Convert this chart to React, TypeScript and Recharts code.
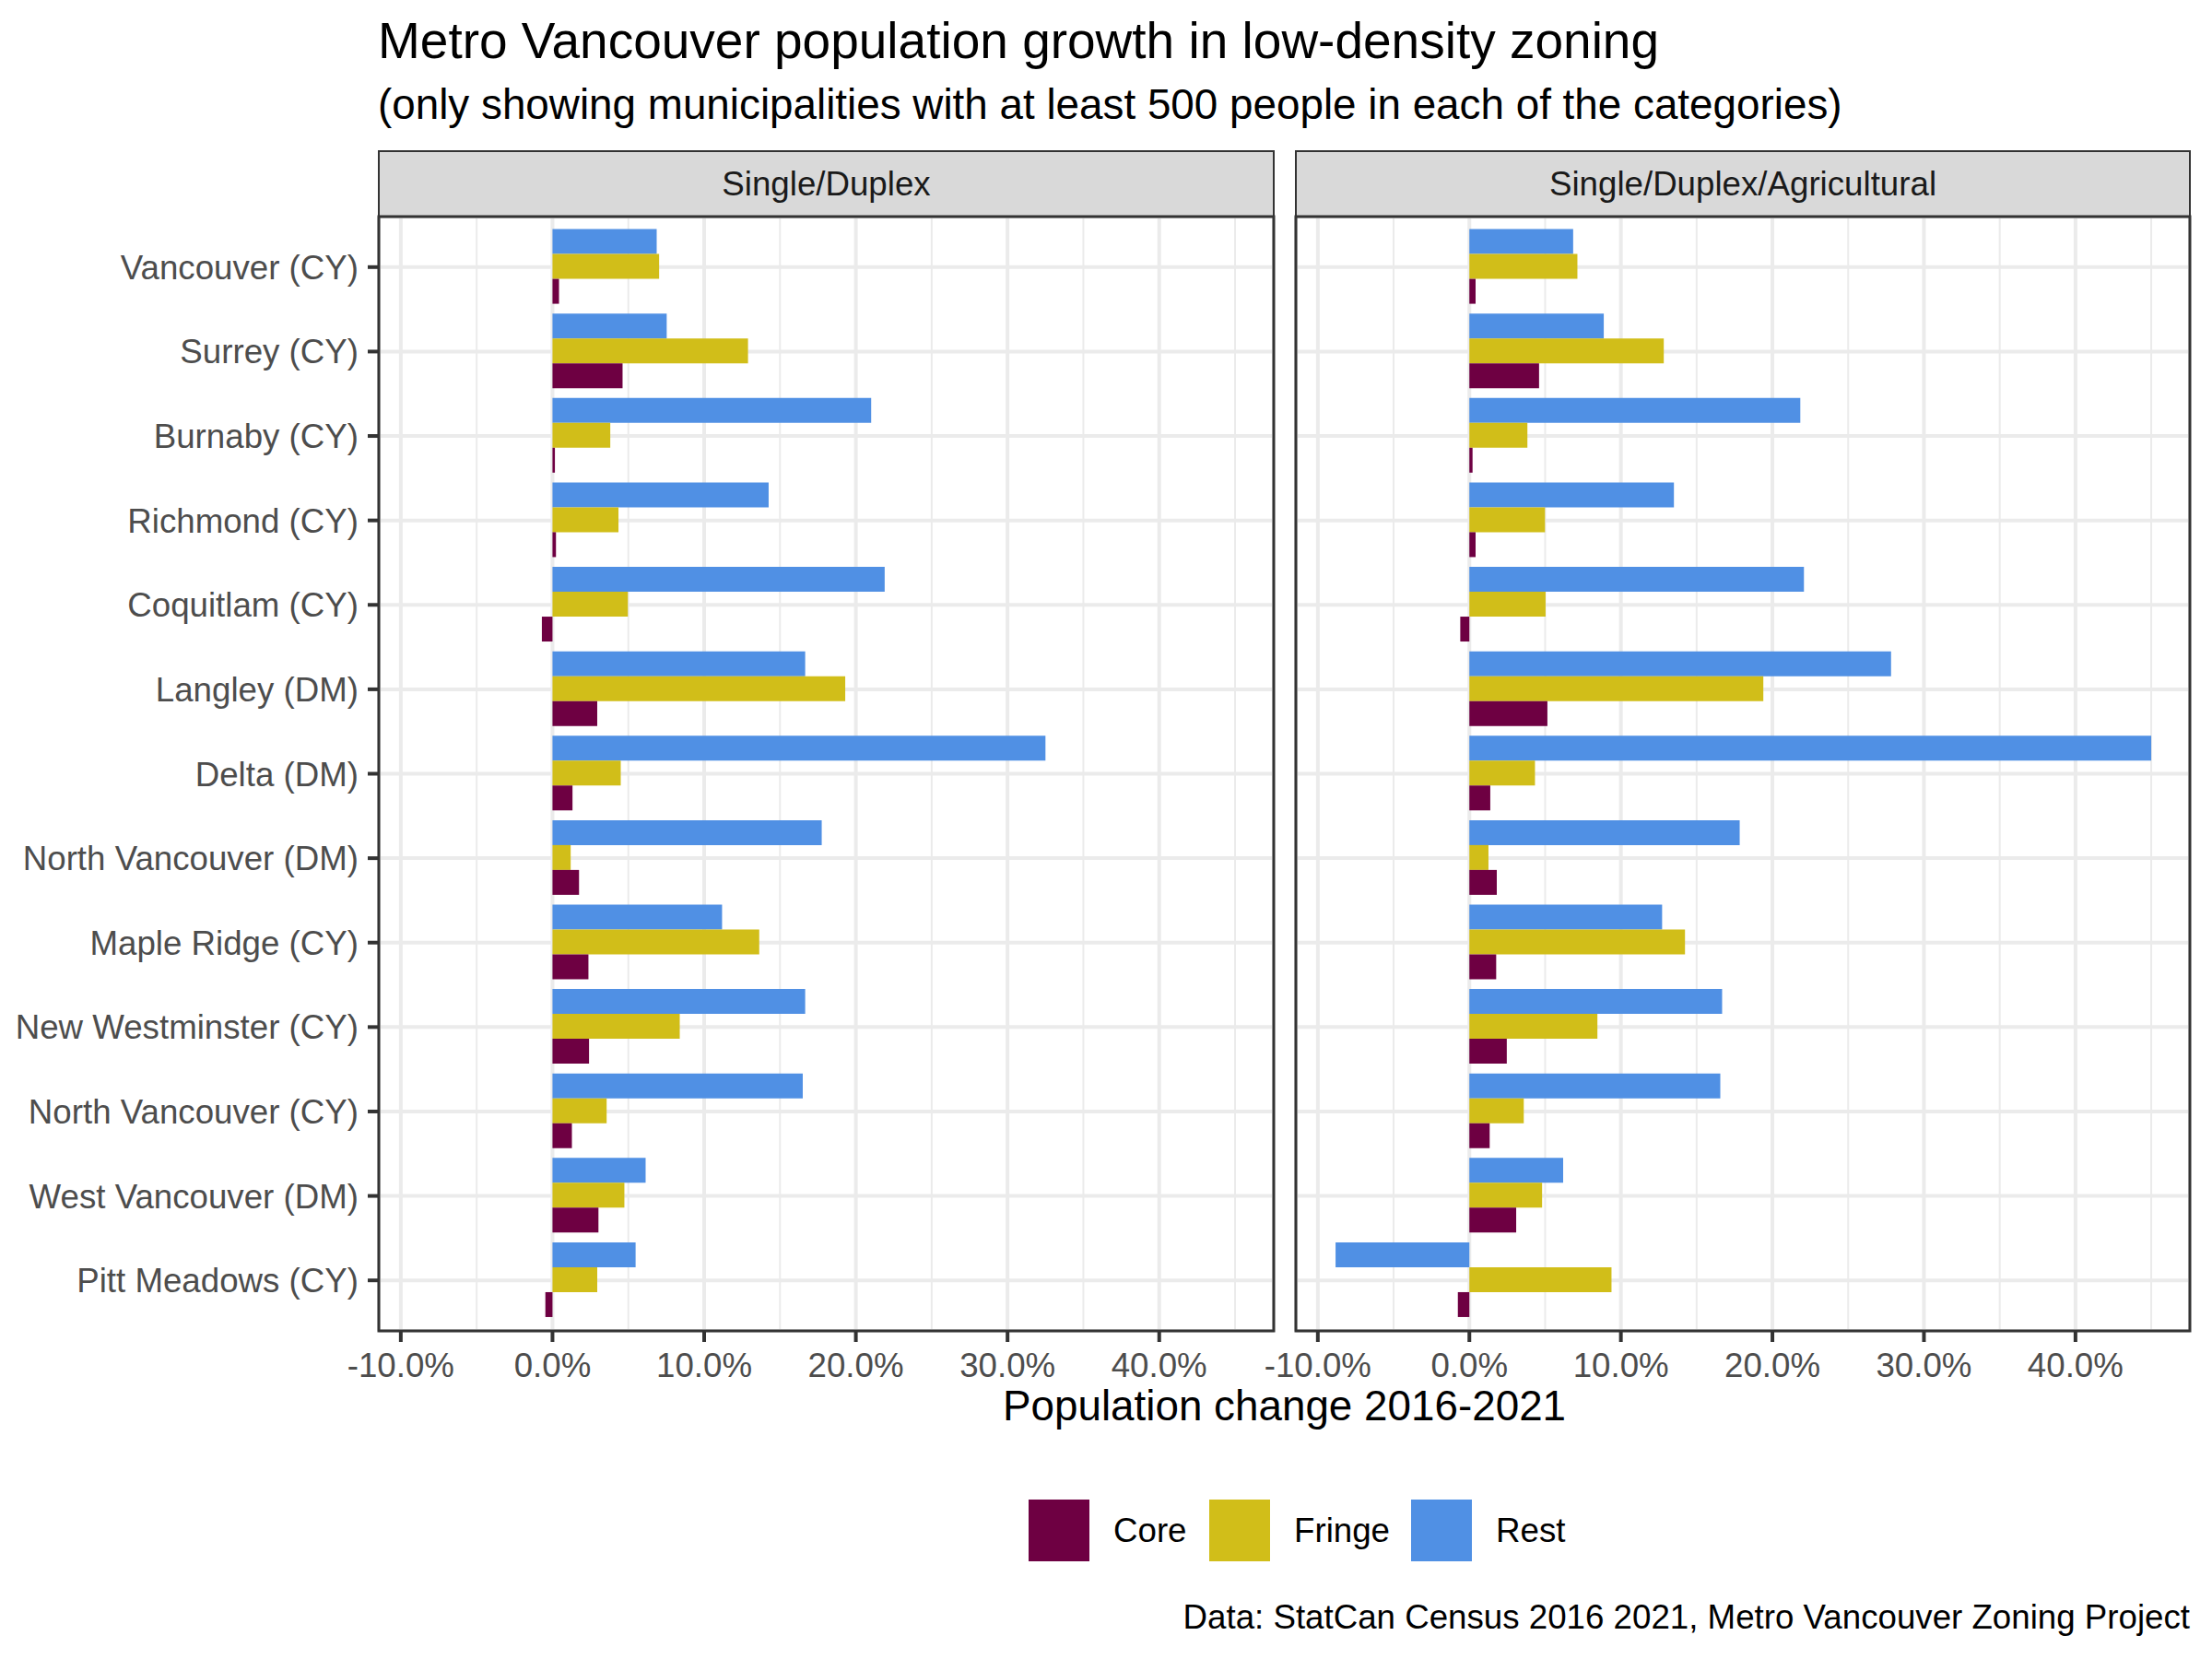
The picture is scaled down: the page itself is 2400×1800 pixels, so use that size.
import { BarChart, Bar, XAxis, YAxis, CartesianGrid, ReferenceLine } from 'recharts'

const FONT = "'Liberation Sans', Arial, Helvetica, sans-serif"

// municipalities, top to bottom
const municipalities = [
  'Vancouver (CY)', 'Surrey (CY)', 'Burnaby (CY)', 'Richmond (CY)', 'Coquitlam (CY)',
  'Langley (DM)', 'Delta (DM)', 'North Vancouver (DM)', 'Maple Ridge (CY)',
  'New Westminster (CY)', 'North Vancouver (CY)', 'West Vancouver (DM)', 'Pitt Meadows (CY)',
]

// Single/Duplex, % change 2016-2021
const sdCore = [0.43, 4.62, 0.16, 0.23, -0.70, 2.95, 1.32, 1.75, 2.37, 2.41, 1.28, 3.03, -0.47]
const sdFringe = [7.03, 12.89, 3.81, 4.35, 4.97, 19.30, 4.50, 1.20, 13.63, 8.39, 3.57, 4.74, 2.95]
const sdRest = [6.87, 7.53, 21.01, 14.25, 21.90, 16.66, 32.50, 17.75, 11.18, 16.66, 16.50, 6.14, 5.48]

// Single/Duplex/Agricultural
const sdaCore = [0.41, 4.60, 0.21, 0.41, -0.60, 5.15, 1.38, 1.81, 1.77, 2.47, 1.34, 3.09, -0.76]
const sdaFringe = [7.13, 12.83, 3.83, 4.99, 5.03, 19.40, 4.33, 1.26, 14.23, 8.45, 3.59, 4.80, 9.38]
const sdaRest = [6.85, 8.87, 21.84, 13.50, 22.08, 27.83, 45.00, 17.84, 12.72, 16.68, 16.56, 6.19, -8.83]

const xTicks = [-10, 0, 10, 20, 30, 40]
const minorTicks = [-5, 5, 15, 25, 35, 45]
const xDomain = [-11.45, 47.55]

const series = [
  { key: 'rest', name: 'Rest', color: '#5090E4' },
  { key: 'fringe', name: 'Fringe', color: '#D1BE19' },
  { key: 'core', name: 'Core', color: '#6E0042' },
]
const legendOrder = ['core', 'fringe', 'rest']

const rows = (core: number[], fringe: number[], rest: number[]) =>
  municipalities.map((name, i) => ({ name, core: core[i], fringe: fringe[i], rest: rest[i] }))

const PANEL_TOP = 235
const PANEL_H = 1209
const TICK = { fontSize: 36.7, fill: '#4D4D4D', fontFamily: FONT }

function Facet({ data, showY, width, left }: { data: any[]; showY: boolean; width: number; left: number }) {
  return (
    <BarChart width={width} height={PANEL_H + 80} data={data} layout="vertical"
      margin={{ top: 0, right: 0, bottom: 0, left }} barCategoryGap="5%" barGap={0}>
      <CartesianGrid stroke="#EBEBEB" strokeWidth={4} />
      {minorTicks.map(v => (
        <ReferenceLine key={v} x={v} stroke="#EBEBEB" strokeWidth={2} zIndex={-90} />
      ))}
      <XAxis type="number" domain={xDomain} ticks={xTicks} allowDataOverflow interval={0}
        tickFormatter={(v: number) => `${v.toFixed(1)}%`} axisLine={false}
        tickLine={{ stroke: '#333333', strokeWidth: 4 }} tickSize={12} tickMargin={12}
        tick={TICK} height={80} />
      <YAxis type="category" dataKey="name" hide={!showY} width={showY ? 411 : 0}
        padding={{ top: 9, bottom: 9 }} axisLine={false} interval={0}
        tickLine={{ stroke: '#333333', strokeWidth: 4 }} tickSize={12} tickMargin={10} tick={TICK} />
      {series.map(s => (
        <Bar key={s.key} dataKey={s.key} name={s.name} fill={s.color} isAnimationActive={false} />
      ))}
    </BarChart>
  )
}

export default function App() {
  const panels = [
    { label: 'Single/Duplex', x: 411, w: 971, data: rows(sdCore, sdFringe, sdRest) },
    { label: 'Single/Duplex/Agricultural', x: 1406, w: 970, data: rows(sdaCore, sdaFringe, sdaRest) },
  ]
  const legendX = [1116, 1312, 1531]
  return (
    <div style={{ position: 'absolute', left: 0, top: 0, width: 2400, height: 1800, background: '#fff', fontFamily: FONT }}>
      <div style={{ position: 'absolute', left: 0, top: PANEL_TOP }}>
        <Facet data={panels[0].data} showY width={1382} left={0} />
      </div>
      <div style={{ position: 'absolute', left: 1406 - 70, top: PANEL_TOP }}>
        <Facet data={panels[1].data} showY={false} width={970 + 70} left={70} />
      </div>

      <svg width={2400} height={1800} style={{ position: 'absolute', left: 0, top: 0, pointerEvents: 'none' }} fontFamily={FONT}>
        <text x={410} y={63} fontSize={55} fill="#000">Metro Vancouver population growth in low-density zoning</text>
        <text x={410} y={129} fontSize={45.8} fill="#000">(only showing municipalities with at least 500 people in each of the categories)</text>

        {panels.map(p => (
          <g key={p.label}>
            <rect x={p.x} y={164} width={p.w} height={71} fill="#D9D9D9" stroke="#333333" strokeWidth={2} />
            <text x={p.x + p.w / 2} y={212} fontSize={36.7} fill="#1A1A1A" textAnchor="middle">{p.label}</text>
            <rect x={p.x} y={PANEL_TOP} width={p.w} height={PANEL_H} fill="none" stroke="#333333" strokeWidth={3} />
          </g>
        ))}

        <text x={1393.5} y={1541} fontSize={45.8} fill="#000" textAnchor="middle">Population change 2016-2021</text>

        {legendOrder.map((k, i) => {
          const s = series.find(d => d.key === k)!
          return (
            <g key={k}>
              <rect x={legendX[i]} y={1627} width={66} height={67} fill={s.color} />
              <text x={legendX[i] + 92} y={1673} fontSize={36.7} fill="#000">{s.name}</text>
            </g>
          )
        })}

        <text x={2376} y={1767} fontSize={36.7} fill="#000" textAnchor="end">Data: StatCan Census 2016 2021, Metro Vancouver Zoning Project</text>
      </svg>
    </div>
  )
}
